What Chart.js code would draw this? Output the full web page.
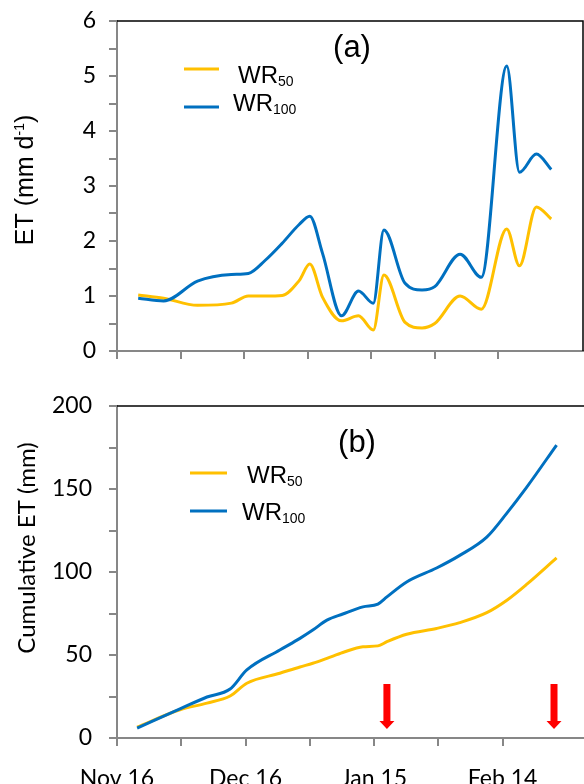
<!DOCTYPE html>
<html>
<head>
<meta charset="utf-8">
<script src="https://cdn.jsdelivr.net/npm/chart.js@4.4.1/dist/chart.umd.min.js"></script>
<style>
  html, body { margin: 0; padding: 0; background: #fff; overflow: hidden; }
  #wrap { position: relative; width: 584px; height: 784px; overflow: hidden; }
  canvas { position: absolute; left: 0; }
  #etChart { top: 0; }
  #cumChart { top: 380px; }
</style>
</head>
<body>
<div id="wrap">
  <canvas id="etChart" width="584" height="380"></canvas>
  <canvas id="cumChart" width="584" height="420"></canvas>
</div>
<script>
// x values are days after Nov 16
const etDays = [5, 11, 19, 27, 31, 35, 39, 43, 45.5, 48.5, 53, 57, 60.5, 63, 68, 72, 75, 81, 86, 92, 95, 99, 102.5];
const etWR50 = [1.02, 0.96, 0.83, 0.87, 1.0, 1.0, 1.01, 1.28, 1.58, 0.98, 0.55, 0.64, 0.38, 1.38, 0.52, 0.42, 0.5, 1.0, 0.76, 2.22, 1.55, 2.62, 2.4];
const etWR100 = [0.96, 0.91, 1.27, 1.39, 1.41, 1.65, 1.96, 2.3, 2.45, 1.78, 0.64, 1.09, 0.87, 2.2, 1.23, 1.11, 1.17, 1.76, 1.34, 5.18, 3.25, 3.58, 3.3];

const cumDays = [4.7, 14.7, 21, 26.4, 30.3, 38, 42.7, 45.7, 49, 52.7, 57.4, 60.9, 63, 67.6, 74.6, 80, 86.3, 91, 95.6, 102.6];
const cumWR50 = [6.6, 17, 21, 25.3, 33, 39, 42.8, 45, 48, 51.5, 55, 55.5, 58, 62.5, 66, 69.5, 75.5, 83, 92.5, 108.5];
const cumWR100 = [6, 17.5, 24.7, 29.5, 41, 53, 60, 65, 71, 74.7, 79, 80.7, 85, 94, 102.4, 110, 121, 135.5, 151, 176.5];

const arrowDays = [63, 102];
const dateLabels = { 0: "Nov 16", 30: "Dec 16", 60: "Jan 15", 90: "Feb 14" };

const YELLOW = "#FFC000";
const BLUE = "#0070C0";
const AXIS = "#878787";

Chart.defaults.font.family = "Lato";
Chart.defaults.color = "#000";

function points(days, vals) {
  return days.map((d, i) => ({ x: d, y: vals[i] }));
}

function series(label, color, days, vals, order) {
  return {
    label: label,
    data: points(days, vals),
    borderColor: color,
    backgroundColor: color,
    borderWidth: 3,
    pointRadius: 0,
    cubicInterpolationMode: "monotone",
    fill: false,
    order: order,
  };
}

function xAxis(max, showLabels, height) {
  return {
    type: "linear",
    min: 0,
    max: max,
    afterBuildTicks: (ax) => {
      ax.ticks = ax.ticks.filter((t) => t.value % 15 === 0);
    },
    ticks: {
      display: showLabels,
      stepSize: 15,
      autoSkip: false,
      maxRotation: 0,
      padding: 19,
      font: { size: 23 },
      callback: (v) => dateLabels[v] || "",
    },
    grid: { drawOnChartArea: false, tickLength: 8, color: AXIS, lineWidth: 2 },
    border: { color: AXIS, width: 2 },
    afterFit: (s) => {
      s.height = height;
      s.paddingLeft = 0;
      s.paddingRight = 0;
    },
  };
}

function yAxis(max, step, labelEvery, pad) {
  return {
    min: 0,
    max: max,
    ticks: {
      stepSize: step,
      autoSkip: false,
      padding: pad,
      font: { size: 23 },
      callback: (v) => (Math.abs(v / labelEvery - Math.round(v / labelEvery)) < 1e-6 ? v : ""),
    },
    grid: { drawOnChartArea: false, tickLength: 8, color: AXIS, lineWidth: 2 },
    border: { color: AXIS, width: 2 },
    afterFit: (s) => {
      s.width = 117;
      s.paddingTop = 0;
      s.paddingBottom = 0;
    },
  };
}

// frame, panel letter, legend with subscripts, y title with superscript
const panelDecor = {
  id: "panelDecor",
  afterDraw(chart, args, o) {
    const { ctx, chartArea: a } = chart;
    ctx.save();
    ctx.strokeStyle = "#000";
    ctx.lineWidth = 1.5;
    ctx.beginPath();
    ctx.moveTo(a.left, a.top);
    ctx.lineTo(a.right, a.top);
    if (o.rightFrame) ctx.lineTo(a.right, a.bottom);
    ctx.stroke();

    ctx.fillStyle = "#000";
    ctx.textBaseline = "alphabetic";
    ctx.textAlign = "center";
    ctx.font = '31px "Liberation Sans"';
    ctx.fillText(o.label, o.labelX, o.labelY);

    ctx.textAlign = "left";
    chart.data.datasets.forEach((ds, i) => {
      const e = o.legend[i];
      ctx.strokeStyle = ds.borderColor;
      ctx.lineWidth = 3;
      ctx.beginPath();
      ctx.moveTo(e.x0, e.lineY);
      ctx.lineTo(e.x1, e.lineY);
      ctx.stroke();
      const main = ds.label.replace(/\d+$/, "");
      const sub = ds.label.slice(main.length);
      ctx.font = '24px "Liberation Sans"';
      ctx.fillText(main, e.textX, e.baseY);
      const w = ctx.measureText(main).width;
      ctx.font = '14px "Liberation Sans"';
      ctx.fillText(sub, e.textX + w, e.baseY + 3);
    });

    ctx.translate(o.titleX, o.titleY);
    ctx.rotate(-Math.PI / 2);
    let total = 0;
    o.title.forEach((p) => {
      ctx.font = p.size + "px " + o.titleFont;
      p.w = ctx.measureText(p.t).width;
      total += p.w;
    });
    let cx = -total / 2;
    o.title.forEach((p) => {
      ctx.font = p.size + "px " + o.titleFont;
      ctx.fillText(p.t, cx, -(p.rise || 0));
      cx += p.w;
    });
    ctx.restore();
  },
};

const arrows = {
  id: "arrows",
  afterDatasetsDraw(chart, args, o) {
    if (!o.days) return;
    const { ctx, scales } = chart;
    ctx.save();
    ctx.fillStyle = "#FF0000";
    o.days.forEach((d) => {
      const cx = scales.x.getPixelForValue(d);
      const top = scales.y.getPixelForValue(o.from);
      const tip = scales.y.getPixelForValue(o.to);
      const hh = 8, sw = 3.5, hw = 7.5;
      ctx.beginPath();
      ctx.moveTo(cx - sw, top);
      ctx.lineTo(cx + sw, top);
      ctx.lineTo(cx + sw, tip - hh);
      ctx.lineTo(cx + hw, tip - hh);
      ctx.lineTo(cx, tip);
      ctx.lineTo(cx - hw, tip - hh);
      ctx.lineTo(cx - sw, tip - hh);
      ctx.closePath();
      ctx.fill();
    });
    ctx.restore();
  },
};

new Chart(document.getElementById("etChart"), {
  type: "line",
  data: {
    datasets: [
      series("WR50", YELLOW, etDays, etWR50, 1),
      series("WR100", BLUE, etDays, etWR100, 0),
    ],
  },
  plugins: [panelDecor],
  options: {
    responsive: false,
    animation: false,
    layout: { padding: { top: 21, right: 1, left: 0, bottom: 0 } },
    scales: {
      x: xAxis(110, false, 29),
      y: yAxis(6, 0.5, 1, 13),
    },
    plugins: {
      legend: { display: false },
      tooltip: { enabled: false },
      panelDecor: {
        rightFrame: true,
        label: "(a)",
        labelX: 352,
        labelY: 57,
        legend: [
          { x0: 184, x1: 219, lineY: 69, textX: 238, baseY: 83 },
          { x0: 184, x1: 219, lineY: 107, textX: 233, baseY: 111 },
        ],
        titleX: 33,
        titleY: 180,
        titleFont: '"Liberation Sans"',
        title: [
          { t: "ET (mm d", size: 25 },
          { t: "-1", size: 14, rise: 9 },
          { t: ")", size: 25 },
        ],
      },
    },
  },
});

new Chart(document.getElementById("cumChart"), {
  type: "line",
  data: {
    datasets: [
      series("WR50", YELLOW, cumDays, cumWR50, 1),
      series("WR100", BLUE, cumDays, cumWR100, 0),
    ],
  },
  plugins: [panelDecor, arrows],
  options: {
    responsive: false,
    animation: false,
    layout: { padding: { top: 26, right: 0, left: 0, bottom: 0 } },
    scales: {
      x: xAxis(109, true, 62),
      y: yAxis(200, 25, 50, 17),
    },
    plugins: {
      legend: { display: false },
      tooltip: { enabled: false },
      arrows: { days: arrowDays, from: 32.5, to: 5.4 },
      panelDecor: {
        rightFrame: false,
        label: "(b)",
        labelX: 357,
        labelY: 72,
        legend: [
          { x0: 190, x1: 227, lineY: 93, textX: 247, baseY: 103 },
          { x0: 190, x1: 227, lineY: 131, textX: 242, baseY: 140 },
        ],
        titleX: 35,
        titleY: 168,
        titleFont: "Lato",
        title: [{ t: "Cumulative ET (mm)", size: 24 }],
      },
    },
  },
});
</script>
</body>
</html>
